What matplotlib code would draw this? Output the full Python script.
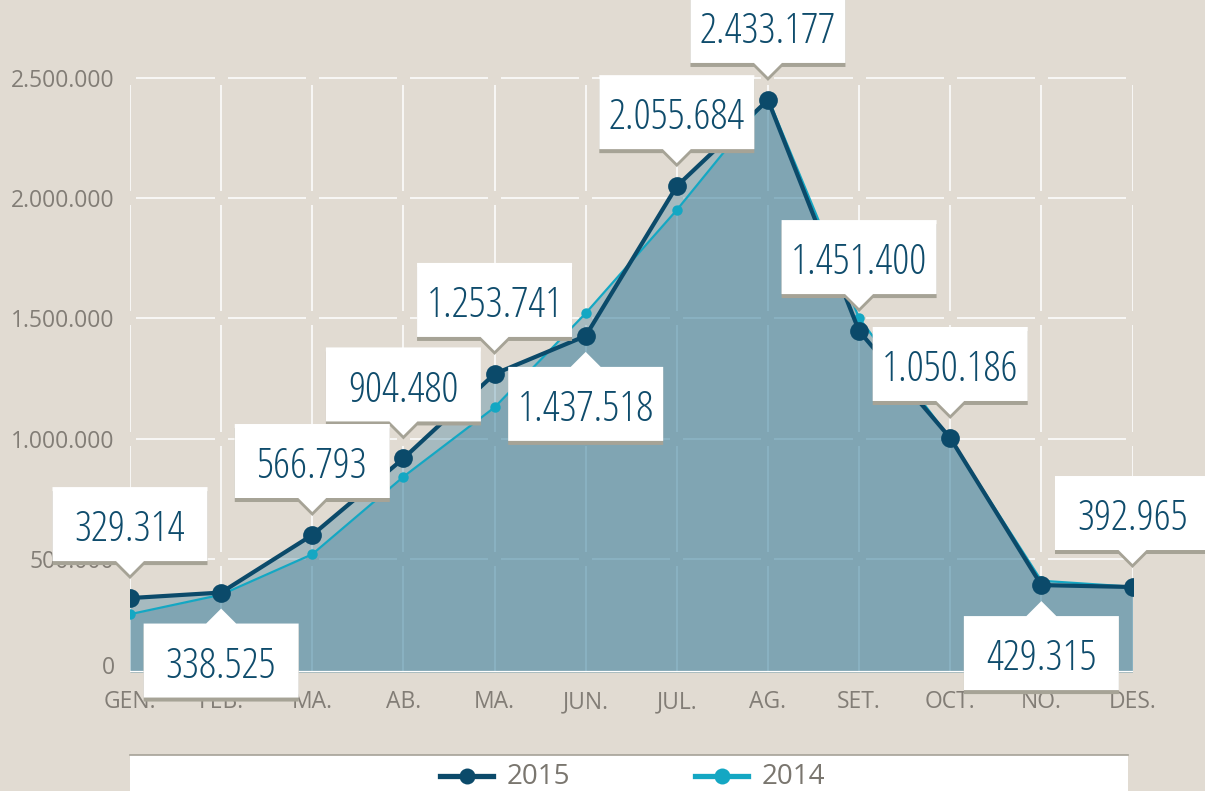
import matplotlib
matplotlib.use("Agg")
import matplotlib.pyplot as plt
from matplotlib import font_manager as fm
from matplotlib.patches import Polygon, Rectangle
from matplotlib.lines import Line2D
from matplotlib.transforms import IdentityTransform
import numpy as np

# ---------------- data ----------------
months = ["GEN.", "FEB.", "MA.", "AB.", "MA.", "JUN.", "JUL.", "AG.",
          "SET.", "OCT.", "NO.", "DES."]
values_2015 = [338000, 361000, 600000, 918000, 1269000, 1427000, 2049000,
               2407000, 1447000, 1003000, 392000, 384000]
values_2014 = [271000, 352000, 520000, 842000, 1130000, 1521000, 1950000,
               2415000, 1501000, 1000000, 410000, 385000]
labels_2015 = ["329.314", "338.525", "566.793", "904.480", "1.253.741",
               "1.437.518", "2.055.684", "2.433.177", "1.451.400",
               "1.050.186", "429.315", "392.965"]
label_below = [False, True, False, False, False, True, False, False,
               False, False, True, False]
y_ticks = [500000, 1000000, 1500000, 2000000, 2500000]
y_ticklabels = ["500.000", "1.000.000", "1.500.000", "2.000.000", "2.500.000"]
series_names = ["2015", "2014"]

# ---------------- style ----------------
BG = "#e1dbd2"
DARK = "#0b4a6a"
CYAN = "#14a7c3"
FILL = "#3f829e"
GRAY_TXT = "#827d76"
LABEL_TXT = "#0f4c6c"
SHADOW = "#a6a396"

# condensed font for callouts
pref = ["Open Sans", "Roboto", "Noto Sans", "Liberation Sans Narrow",
        "Liberation Sans", "DejaVu Sans"]
cands = []
for f in fm.fontManager.ttflist:
    narrow = ("Narrow" in f.name or "Condensed" in f.name or
              "condensed" in str(f.stretch))
    if not narrow or f.style != "normal":
        continue
    w = f.weight if isinstance(f.weight, int) else 400
    if w not in (300, 400):
        continue
    rank = len(pref)
    for i, p in enumerate(pref):
        if f.name.startswith(p):
            rank = i
            break
    cands.append((rank, abs(w - 400), f.fname))
if cands:
    cands.sort()
    cond_prop = fm.FontProperties(fname=cands[0][2])
else:
    cond_prop = fm.FontProperties(family="Liberation Sans")

plt.rcParams["font.family"] = ["Open Sans", "DejaVu Sans"]

W, H = 1205, 791
fig = plt.figure(figsize=(W / 100, H / 100), dpi=100, facecolor=BG)

x_left, x_right = 130, 1132.5
y_bot_img, y_top_img = 672, 40
ax = fig.add_axes([x_left / W, (H - y_bot_img) / H,
                   (x_right - x_left) / W, (y_bot_img - y_top_img) / H])
ax.set_facecolor(BG)
x = np.arange(len(months))
ymin, ymax = 31000, 2656000
ax.set_xlim(0, len(months) - 1)
ax.set_ylim(ymin, ymax)

# ---------------- broken grid ----------------
gx = 0.071  # gap in x data units
gy = 29000  # gap in y data units
for yv in y_ticks:
    for i in range(len(months) - 1):
        ax.plot([i + gx, i + 1 - gx], [yv, yv], color="white", lw=1.1,
                zorder=0.5, solid_capstyle="butt")
levels = [ymin] + y_ticks
for xi in x:
    for k in range(len(levels) - 1):
        lo = levels[k] + (gy if k > 0 else 0)
        hi = levels[k + 1] - gy
        ax.plot([xi, xi], [lo, hi], color="white", lw=1.1, zorder=0.5,
                solid_capstyle="butt")

# ---------------- areas and lines ----------------
ax.fill_between(x, ymin, values_2014, color=FILL, alpha=0.36, lw=0, zorder=1)
ax.fill_between(x, ymin, values_2015, color=FILL, alpha=0.36, lw=0, zorder=1.1)
ax.plot(x, values_2014, color=CYAN, lw=1.6, marker="o", ms=7.5,
        markeredgewidth=0, zorder=3)
ax.plot(x, values_2015, color=DARK, lw=3.0, marker="o", ms=13.5,
        markeredgewidth=0, zorder=4)
ax.axhline(ymin, color="white", lw=1.6, zorder=2)

# ---------------- axes styling ----------------
for s in ax.spines.values():
    s.set_visible(False)
ax.set_yticks(y_ticks)
ax.set_yticklabels(y_ticklabels)
ax.set_xticks(x)
ax.set_xticklabels(months)
ax.tick_params(axis="both", length=0, labelsize=16.5, labelcolor=GRAY_TXT)
ax.tick_params(axis="y", pad=11.5)
ax.tick_params(axis="x", pad=13)
ax.annotate("0", xy=(0, ymin), xycoords="data", xytext=(-15, 4),
            textcoords="offset pixels", ha="right", va="center",
            fontsize=16.5, color=GRAY_TXT, annotation_clip=False)

# ---------------- callouts ----------------
fig.canvas.draw()
BW, BH = 155, 74
for i, (v, lab, below) in enumerate(zip(values_2015, labels_2015, label_below)):
    X, Y = ax.transData.transform((i, v))
    hw = BW / 2
    if not below:
        yb = Y + 37
        pts = [(X - hw, yb), (X - 14, yb), (X, yb - 14), (X + 14, yb),
               (X + hw, yb), (X + hw, yb + BH), (X - hw, yb + BH)]
        cy = yb + BH / 2
    else:
        yt = Y - 31
        pts = [(X - hw, yt), (X - 15, yt), (X, yt + 15), (X + 15, yt),
               (X + hw, yt), (X + hw, yt - BH), (X - hw, yt - BH)]
        cy = yt - BH / 2
    sh = [(px, py - 4) for px, py in pts]
    ax.add_patch(Polygon(sh, closed=True, facecolor=SHADOW, edgecolor="none",
                         transform=IdentityTransform(), clip_on=False,
                         zorder=9))
    ax.add_patch(Polygon(pts, closed=True, facecolor="white", edgecolor="none",
                         transform=IdentityTransform(), clip_on=False,
                         zorder=10))
    ax.text(X, cy - 1, lab, transform=IdentityTransform(), ha="center",
            va="center_baseline", fontproperties=cond_prop, fontsize=30.5,
            color=LABEL_TXT, zorder=11, clip_on=False)

# ---------------- legend ----------------
leg_top = H - 755
fig.patches.append(Rectangle((130, 0), 998, leg_top, facecolor="white",
                             edgecolor="none", transform=IdentityTransform(),
                             zorder=5))
fig.lines.append(Line2D([130, 1128], [leg_top, leg_top], color="#a6a298",
                        lw=1.2, transform=IdentityTransform(), zorder=6))
ly = H - 776
for (x0, x1, tx), col, name in zip([(440, 493, 507), (695, 748, 762)],
                                   [DARK, CYAN], series_names):
    fig.lines.append(Line2D([x0, x1], [ly, ly], color=col, lw=3.8,
                            transform=IdentityTransform(), zorder=7))
    fig.lines.append(Line2D([(x0 + x1) / 2], [ly], color=col, marker="o",
                            ms=11.5, markeredgewidth=0, lw=0,
                            transform=IdentityTransform(), zorder=8))
    fig.text(tx / W, (ly + 2) / H, name, ha="left", va="center_baseline",
             fontsize=20, color="#7a766f", zorder=8)

fig.savefig("out.png", dpi=100, facecolor=BG)
